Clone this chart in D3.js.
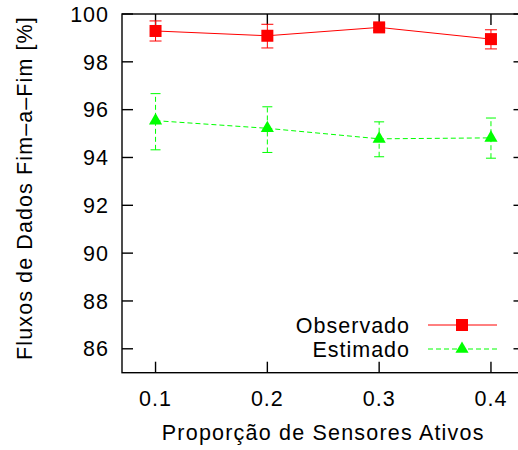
<!DOCTYPE html>
<html>
<head>
<meta charset="utf-8">
<script src="https://cdn.jsdelivr.net/npm/d3@7"></script>
<style>
    body { margin: 0; background: #fff; }
    svg text { font-family: "Liberation Sans", Arial, sans-serif; fill: #000; font-size: 21.5px; letter-spacing: 1px; }
</style>
</head>
<body>
<svg id="chart" width="518" height="450"></svg>
<script>
// proportion of active sensors
const proportions = [0.1, 0.2, 0.3, 0.4];

// Observado: mean, lower, upper
const observado = [99.29, 99.09, 99.44, 98.95];
const observadoLow = [98.87, 98.58, 99.30, 98.54];
const observadoHigh = [99.71, 99.57, 99.58, 99.34];

// Estimado: mean, lower, upper
const estimado = [95.54, 95.22, 94.78, 94.82];
const estimadoLow = [94.32, 94.21, 94.03, 93.97];
const estimadoHigh = [96.67, 96.12, 95.49, 95.65];

const xTicks = [0.1, 0.2, 0.3, 0.4];
const yTicks = [86, 88, 90, 92, 94, 96, 98, 100];

const svg = d3.select('#chart');

const plotLeft = 122, plotRight = 524.5, plotTop = 14, plotBottom = 372.7;

const x = d3.scaleLinear().domain([0.07, 0.43]).range([plotLeft, plotRight]);
const y = d3.scaleLinear().domain([85, 100]).range([plotBottom, plotTop]);

// ticks (gnuplot style: mirrored on all four sides, pointing inward)
const tickLen = 11;
const axes = svg.append('g').attr('stroke', '#000').attr('stroke-width', 1.4);

yTicks.forEach(t => {
    axes.append('line').attr('x1', plotLeft).attr('x2', plotLeft + tickLen).attr('y1', y(t)).attr('y2', y(t));
    axes.append('line').attr('x1', plotRight).attr('x2', plotRight - tickLen).attr('y1', y(t)).attr('y2', y(t));
});
xTicks.forEach(t => {
    axes.append('line').attr('x1', x(t)).attr('x2', x(t)).attr('y1', plotBottom).attr('y2', plotBottom - tickLen);
    axes.append('line').attr('x1', x(t)).attr('x2', x(t)).attr('y1', plotTop).attr('y2', plotTop + tickLen);
});

axes.append('rect')
    .attr('x', plotLeft).attr('y', plotTop)
    .attr('width', plotRight - plotLeft).attr('height', plotBottom - plotTop)
    .attr('fill', 'none');

// tick labels
svg.selectAll('.ylab')
    .data(yTicks)
    .enter()
    .append('text')
    .attr('x', 109)
    .attr('y', d => y(d) + 7.7)
    .attr('text-anchor', 'end')
    .text(d => d);

svg.selectAll('.xlab')
    .data(xTicks)
    .enter()
    .append('text')
    .attr('x', d => x(d))
    .attr('y', 405.5)
    .attr('text-anchor', 'middle')
    .text(d => d.toFixed(1));

// axis titles
svg.append('text')
    .attr('x', (plotLeft + plotRight) / 2)
    .attr('y', 440)
    .attr('text-anchor', 'middle')
    .style('letter-spacing', '1.2px')
    .text('Proporção de Sensores Ativos');

svg.append('text')
    .attr('transform', 'translate(32,188) rotate(-90)')
    .attr('text-anchor', 'middle')
    .style('letter-spacing', '1.1px')
    .text('Fluxos de Dados Fim\u2013a\u2013Fim [%]');

const line = d3.line()
    .x(d => x(d[0]))
    .y(d => y(d[1]));

const triangle = d3.symbol().type(d3.symbolTriangle).size(75);

function drawSeries(values, low, high, color, dash, marker, capW) {
    const g = svg.append('g');
    const pts = proportions.map((p, i) => [p, values[i]]);

    g.append('path')
        .attr('d', line(pts))
        .attr('fill', 'none')
        .attr('stroke', color)
        .attr('stroke-width', 1)
        .attr('stroke-dasharray', dash);

    proportions.forEach((p, i) => {
        const cx = x(p);
        g.append('line')
            .attr('x1', cx).attr('x2', cx)
            .attr('y1', y(low[i])).attr('y2', y(high[i]))
            .attr('stroke', color).attr('stroke-dasharray', dash);
        [low[i], high[i]].forEach(v => {
            g.append('line')
                .attr('x1', cx - capW / 2).attr('x2', cx + capW / 2)
                .attr('y1', y(v)).attr('y2', y(v))
                .attr('stroke', color);
        });
    });

    pts.forEach(d => drawMarker(g, x(d[0]), y(d[1]), marker, color));
}

function drawMarker(g, cx, cy, marker, color) {
    if (marker === 'square') {
        g.append('rect')
            .attr('x', cx - 6).attr('y', cy - 6)
            .attr('width', 12).attr('height', 12)
            .attr('fill', color);
    } else {
        g.append('path')
            .attr('d', triangle())
            .attr('transform', `translate(${cx},${cy})`)
            .attr('fill', color);
    }
}

drawSeries(observado, observadoLow, observadoHigh, '#ff0000', null, 'square', 12);
drawSeries(estimado, estimadoLow, estimadoHigh, '#00ff00', '5,3', 'triangle', 10);

// legend
const legend = [
    { name: 'Observado', color: '#ff0000', dash: null, marker: 'square', y: 325 },
    { name: 'Estimado', color: '#00ff00', dash: '5,3', marker: 'triangle', y: 349 }
];

legend.forEach(l => {
    svg.append('text')
        .attr('x', 410)
        .attr('y', l.y + 8)
        .attr('text-anchor', 'end')
        .text(l.name);
    svg.append('line')
        .attr('x1', 428).attr('x2', 497)
        .attr('y1', l.y).attr('y2', l.y)
        .attr('stroke', l.color)
        .attr('stroke-dasharray', l.dash);
    drawMarker(svg, 462, l.y, l.marker, l.color);
});
</script>
</body>
</html>
